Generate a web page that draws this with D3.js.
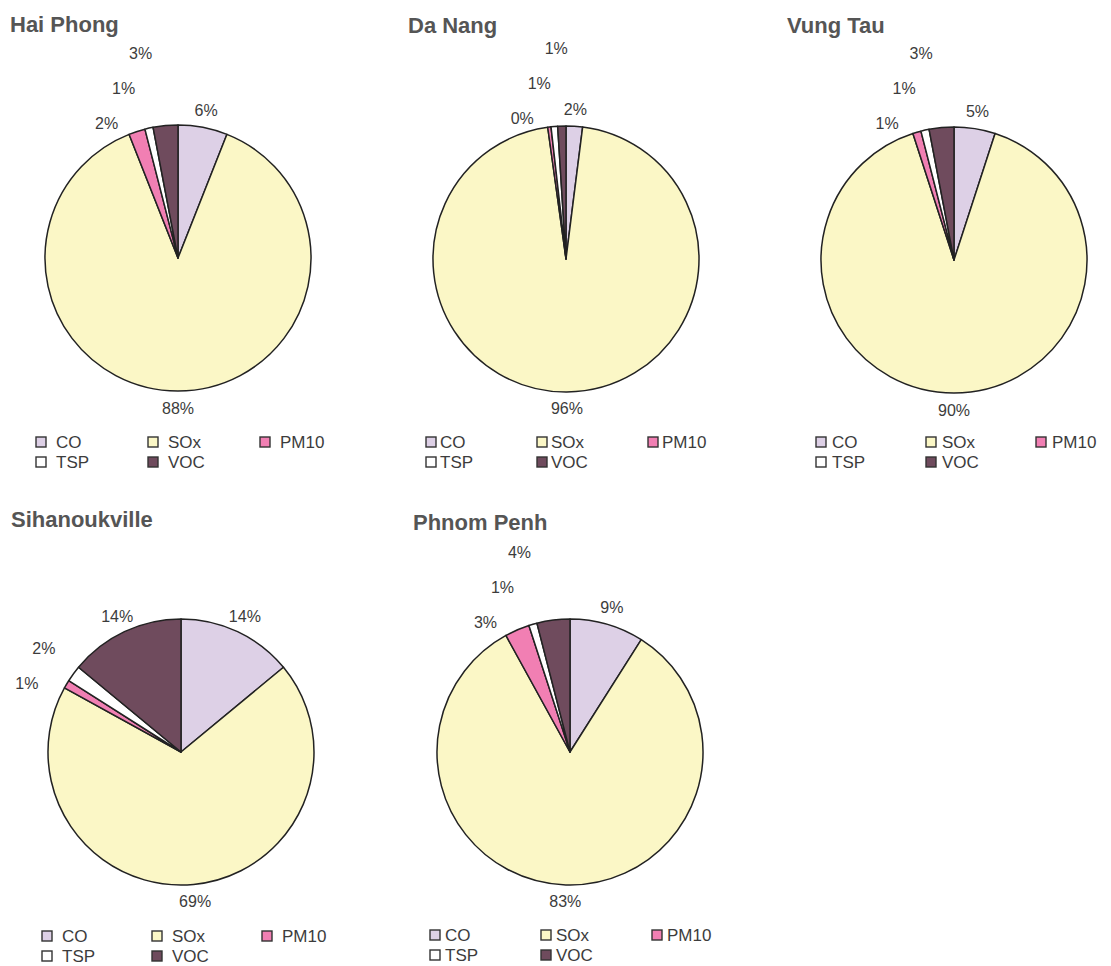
<!DOCTYPE html>
<html>
<head>
<meta charset="utf-8">
<script src="https://cdn.jsdelivr.net/npm/d3@7/dist/d3.min.js"></script>
<style>
  body { margin: 0; background: #fff; }
  svg { display: block; font-family: "Liberation Sans", Arial, sans-serif; }
</style>
</head>
<body>
<svg id="chart" width="1111" height="966"></svg>
<script>
// pollutants, in clockwise order from 12 o'clock
const pollutants = ["CO", "SOx", "PM10", "TSP", "VOC"];
const colors = ["#ddd0e6", "#fbf7c6", "#f17fb3", "#ffffff", "#6f4b5d"];

// share of emissions (%)
const cities = ["Hai Phong", "Da Nang", "Vung Tau", "Sihanoukville", "Phnom Penh"];
const haiPhong = [6, 88, 2, 1, 3];
const daNang = [2, 96, 0.4, 0.8, 1.0];
const vungTau = [5, 90, 1, 1, 3];
const sihanoukville = [14, 69, 1, 2, 14];
const phnomPenh = [9, 83, 3, 1, 4];
const values = [haiPhong, daNang, vungTau, sihanoukville, phnomPenh];

// panel layout: title, pie centre, legend origin / column step / text gap
const panels = [
  { tx: 10, ty: 32, cx: 178, cy: 258, lx: 36, ly: 442, col: 112, gap: 20 },
  { tx: 408, ty: 33, cx: 566, cy: 259, lx: 426, ly: 442, col: 111, gap: 14 },
  { tx: 787, ty: 33, cx: 954, cy: 260, lx: 816, ly: 442, col: 110, gap: 16 },
  { tx: 11, ty: 527, cx: 181, cy: 752, lx: 42, ly: 936, col: 110, gap: 20 },
  { tx: 413, ty: 530, cx: 570, cy: 752, lx: 430, ly: 935, col: 111, gap: 15 }
];

const R = 133;
const labelR = 150;
const svg = d3.select("#chart");
const pie = d3.pie().sort(null).value(d => d);
const arc = d3.arc().innerRadius(0).outerRadius(R);
const color = d3.scaleOrdinal(pollutants, colors);

cities.forEach((city, ci) => {
  const p = panels[ci];
  const data = values[ci];
  const total = d3.sum(data);
  const g = svg.append("g");

  g.append("text")
    .attr("x", p.tx).attr("y", p.ty)
    .attr("font-size", 22).attr("font-weight", "bold")
    .attr("fill", "#555")
    .text(city);

  const pg = g.append("g").attr("transform", `translate(${p.cx},${p.cy})`);
  const arcs = pie(data);

  pg.selectAll("path")
    .data(arcs)
    .join("path")
    .attr("d", arc)
    .attr("fill", (d, i) => color(pollutants[i]))
    .attr("stroke", "#222")
    .attr("stroke-width", 1.5)
    .attr("stroke-linejoin", "round");

  // label positions: small neighbouring slices get stacked upward
  const pos = [];
  arcs.forEach((d, i) => {
    const a = (d.startAngle + d.endAngle) / 2;
    let x = Math.sin(a) * labelR, y = -Math.cos(a) * labelR;
    if (i > 0) {
      const prev = arcs[i - 1];
      const pa = (prev.startAngle + prev.endAngle) / 2;
      if (a - pa < 12 * Math.PI / 180) {
        if (!pos[i - 1].stacked) {
          pos[i - 1].x -= 25; pos[i - 1].y += 8; pos[i - 1].stacked = true;
        }
        x = pos[i - 1].x + 17; y = pos[i - 1].y - 35;
        pos.push({ x, y, stacked: true });
        return;
      }
    }
    pos.push({ x, y, stacked: false });
  });

  pg.selectAll("text.lbl")
    .data(arcs)
    .join("text")
    .attr("class", "lbl")
    .attr("x", (d, i) => pos[i].x)
    .attr("y", (d, i) => pos[i].y)
    .attr("text-anchor", "middle")
    .attr("dominant-baseline", "central")
    .attr("font-size", 16)
    .attr("fill", "#3c3c3c")
    .text(d => d3.format(".0f")(d.value / total * 100) + "%");

  // legend: 3 columns, 2 rows
  const lg = g.append("g").attr("transform", `translate(${p.lx},${p.ly})`);
  const item = lg.selectAll("g")
    .data(pollutants)
    .join("g")
    .attr("transform", (d, i) => `translate(${(i % 3) * p.col},${Math.floor(i / 3) * 20})`);
  item.append("rect")
    .attr("x", 0).attr("y", -5)
    .attr("width", 10).attr("height", 10)
    .attr("fill", d => color(d))
    .attr("stroke", "#333").attr("stroke-width", 1.4);
  item.append("text")
    .attr("x", p.gap).attr("y", 0)
    .attr("dominant-baseline", "central")
    .attr("font-size", 17)
    .attr("fill", "#3c3c3c")
    .text(d => d);
});
</script>
</body>
</html>
